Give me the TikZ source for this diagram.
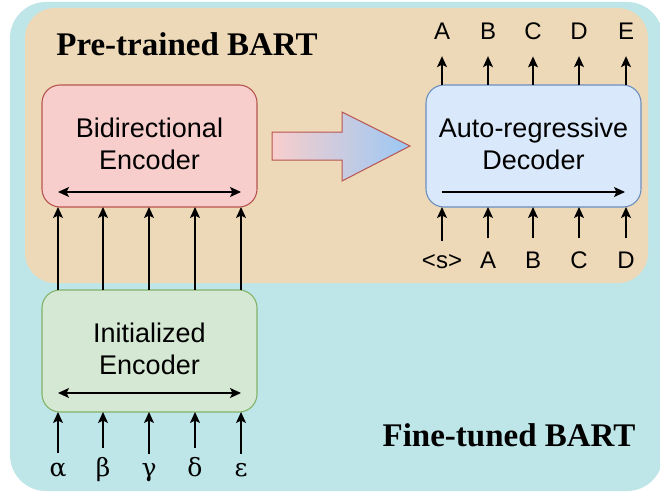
\documentclass[tikz,border=0pt]{standalone}
\usepackage{fontspec}
\setmainfont{Liberation Serif}
\setsansfont{Liberation Sans}
\newfontfamily\greekfont{DejaVu Serif}
\usetikzlibrary{arrows.meta,calc}
\definecolor{tealbg}{RGB}{190,230,232}
\definecolor{tanbg}{RGB}{237,217,183}
\definecolor{pinkfill}{HTML}{F8CECC}
\definecolor{pinkline}{HTML}{B85450}
\definecolor{bluefill}{HTML}{DAE8FC}
\definecolor{blueline}{HTML}{6C8EBF}
\definecolor{greenfill}{HTML}{D5E8D4}
\definecolor{greenline}{HTML}{82B366}
\definecolor{arrowblue}{RGB}{155,200,245}
\begin{document}
\begin{tikzpicture}[x=1pt,y=-1pt,
  box/.style={draw, line width=1.1pt, rounded corners=18pt, inner sep=0pt,
    minimum width=215pt, minimum height=122pt},
  boxtext/.style={font=\sffamily\fontsize{27}{32}\selectfont, align=center},
  tok/.style={font=\sffamily\fontsize{24}{26}\selectfont, anchor=base, inner sep=3pt},
  gtok/.style={font=\greekfont\fontsize{25}{26}\selectfont, anchor=base, inner sep=3pt},
  title/.style={font=\bfseries\fontsize{33}{36}\selectfont, anchor=base},
  arr/.style={line width=1.3pt, -{Stealth[length=11pt,width=10pt,inset=2.5pt]}},
  darr/.style={line width=1.3pt, {Stealth[length=11pt,width=10pt,inset=2.5pt]}-{Stealth[length=11pt,width=10pt,inset=2.5pt]}}]
\useasboundingbox (0,0) rectangle (660,495);
% backgrounds
\fill[tealbg, rounded corners=36pt] (10,2) rectangle (663,491);
\fill[tanbg, rounded corners=30pt] (25,8) rectangle (648,283);
\node[title] (pre) at (187,56) {Pre-trained BART};
\node[title] (fine) at (509,446) {Fine-tuned BART};
% boxes
\node[box, fill=pinkfill, draw=pinkline] (enc) at (149.5,146) {};
\node[boxtext] (enctxt) at (149.5,144) {Bidirectional\\Encoder};
\node[box, fill=bluefill, draw=blueline] (dec) at (533.5,146) {};
\node[boxtext] (dectxt) at (533.5,144) {Auto-regressive\\Decoder};
\node[box, fill=greenfill, draw=greenline] (ini) at (149.5,351) {};
\node[boxtext] (initxt) at (149.5,349) {Initialized\\Encoder};
% inner arrows
\coordinate (e1) at (58,192); \coordinate (e2) at (241,192);
\draw[darr] (e1) -- (e2);
\coordinate (i1) at (58,393); \coordinate (i2) at (241,393);
\draw[darr] (i1) -- (i2);
\coordinate (d1) at (442,192); \coordinate (d2) at (625,192);
\draw[arr] (d1) -- (d2);
% big transfer arrow
\shade[left color=pinkfill, right color=arrowblue, draw=pinkline, line width=1pt]
  (272,132) -- (342,132) -- (342,112) -- (410,146) -- (342,181) -- (342,160) -- (272,160) -- cycle;
% encoder columns
\foreach \x/\g [count=\i] in {58/α,103/β,149/γ,195/δ,241/ε}{
  \node[gtok] (g\i) at (\x,476) {\g};
  \coordinate (ib\i) at (\x,412);
  \coordinate (it\i) at (\x,290);
  \coordinate (eb\i) at (\x,207);
  \draw[arr, shorten <=6pt] (g\i.north) -- (ib\i);
  \draw[arr] (it\i) -- (eb\i);
}
% decoder columns
\foreach \x/\o/\n [count=\i] in {442/A/{<s>},488/B/A,533/C/B,579/D/C,626/E/D}{
  \node[tok] (o\i) at (\x,40) {\o};
  \node[tok] (n\i) at (\x,268) {\n};
  \coordinate (dt\i) at (\x,85);
  \coordinate (db\i) at (\x,207);
  \draw[arr, shorten >=13pt] (dt\i) -- (o\i.south);
  \draw[arr, shorten <=10pt] (n\i.north) -- (db\i);
}
\end{tikzpicture}
\end{document}
